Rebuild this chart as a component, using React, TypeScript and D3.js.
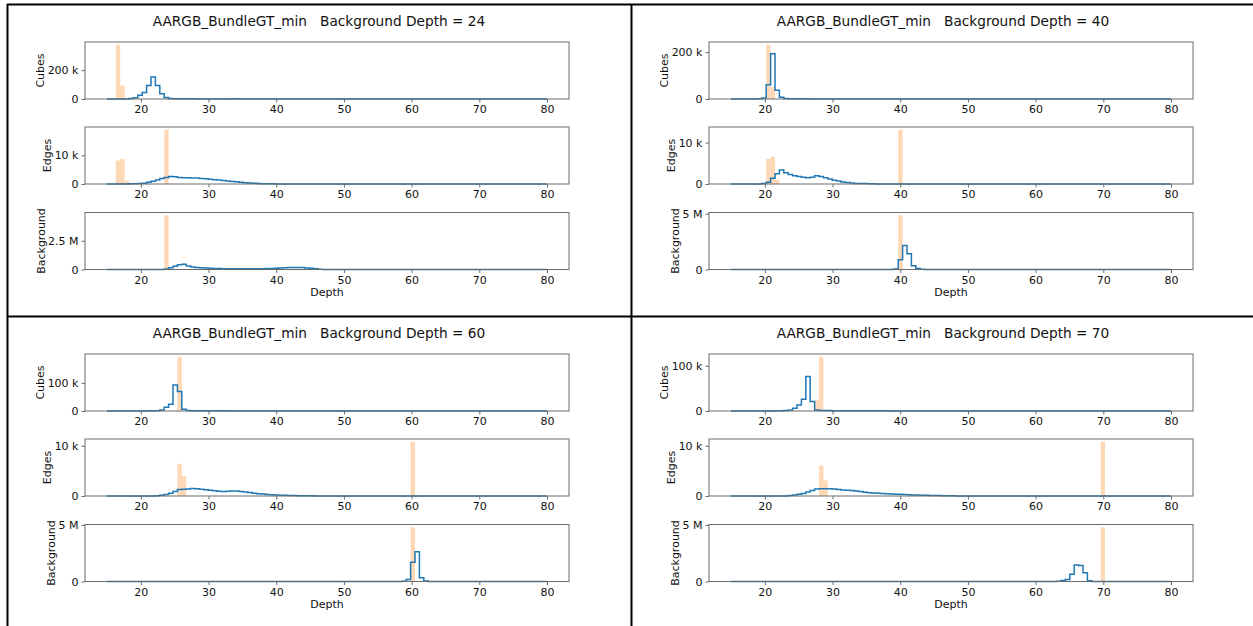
import React, { useEffect, useRef } from 'react';
import * as d3 from 'd3';

// histogram bins: 100 bins between depth 15 and 80
const binStart = 15;
const binEnd = 80;
const binCount = 100;
const xTicks = [20, 30, 40, 50, 60, 70, 80];

const datasetName = 'AARGB_BundleGT_min';
const backgroundDepths = [24, 40, 60, 70];
const rowLabels = ['Cubes', 'Edges', 'Background'];
const rowUnits = ['k', 'k', 'M'];

// blue step histograms: counts per bin, starting at bin index *Start
// Cubes / Edges in thousands, Background in millions
const cubes24Start = 4;
const cubes24 = [0.5, 3, 8, 26, 46, 94, 152, 94, 37, 11, 4, 2, 1.5, 1.2, 1, 1, 0.8, 0.7, 0.6, 0.5, 0.5, 0.4, 0.4, 0.5, 1.5, 1, 0.3, 0.2, 0.1];
const edges24Start = 4;
const edges24 = [0.02, 0.05, 0.08, 0.15, 0.3, 0.6, 0.95, 1.4, 1.9, 2.3, 2.6, 2.5, 2.3, 2.2, 2.15, 2.1, 2.05, 1.95, 1.8, 1.65, 1.5, 1.35, 1.2, 1.05, 0.9, 0.75, 0.6, 0.45, 0.35, 0.25, 0.18, 0.12, 0.08, 0.05, 0.03, 0.02];
const bg24Start = 13;
const bg24 = [0.05, 0.15, 0.28, 0.42, 0.45, 0.3, 0.22, 0.18, 0.15, 0.12, 0.1, 0.09, 0.08, 0.07, 0.07, 0.065, 0.065, 0.06, 0.06, 0.06, 0.06, 0.065, 0.07, 0.08, 0.09, 0.11, 0.13, 0.15, 0.17, 0.18, 0.18, 0.17, 0.14, 0.1, 0.06, 0.03, 0.01];

const cubes40Start = 5;
const cubes40 = [0.3, 0.8, 4, 61, 193, 37, 7, 2.5, 1.5, 1.2, 1, 0.8, 0.6, 0.5, 0.4];
const edges40Start = 7;
const edges40 = [0.1, 0.4, 1.4, 2.5, 3.4, 2.7, 2.3, 2.0, 1.8, 1.6, 1.5, 1.6, 2.0, 1.8, 1.5, 1.2, 0.9, 0.7, 0.5, 0.35, 0.25, 0.15, 0.12, 0.1, 0.07, 0.05, 0.03, 0.02];
const bg40Start = 37;
const bg40 = [0.04, 0.87, 2.15, 1.4, 0.33, 0.08, 0.02];

const cubes60Start = 9;
const cubes60 = [0.5, 0.8, 1, 3.5, 13, 24, 92, 69, 6, 1.5, 1.2, 1, 0.9, 0.8, 0.7, 0.6, 0.6, 0.5, 0.5, 0.4, 0.4, 0.35, 0.3, 0.3];
const edges60Start = 11;
const edges60 = [0.05, 0.13, 0.3, 0.55, 0.9, 1.3, 1.35, 1.4, 1.5, 1.45, 1.35, 1.25, 1.15, 1.05, 0.95, 0.9, 0.95, 1.0, 1.0, 0.9, 0.8, 0.7, 0.55, 0.45, 0.38, 0.3, 0.25, 0.2, 0.15, 0.13, 0.1, 0.08, 0.06, 0.05, 0.04, 0.03, 0.02];
const bg60Start = 67;
const bg60 = [0.03, 0.18, 1.7, 2.63, 0.33, 0.05];

const cubes70Start = 10;
const cubes70 = [0.5, 0.5, 1, 2.2, 6, 13, 26, 76, 21, 2, 1.2, 1, 0.9, 0.8, 0.7, 0.6, 0.5, 0.5, 0.5, 0.4, 0.4, 0.35, 0.3, 0.3, 0.3, 0.3];
const edges70Start = 13;
const edges70 = [0.1, 0.2, 0.35, 0.5, 0.8, 1.1, 1.4, 1.45, 1.45, 1.45, 1.4, 1.3, 1.2, 1.15, 1.1, 1.0, 0.9, 0.75, 0.66, 0.6, 0.55, 0.5, 0.45, 0.4, 0.35, 0.33, 0.3, 0.25, 0.2, 0.18, 0.15, 0.13, 0.12, 0.1, 0.08, 0.06, 0.04, 0.03, 0.02];
const bg70Start = 74;
const bg70 = [0.03, 0.09, 0.18, 0.65, 1.45, 1.42, 0.77, 0.06];

// orange ground truth bars: [bin index, count]
const gtCubes24 = [[2, 377], [3, 94]];
const gtEdges24 = [[2, 8.2], [3, 8.7], [4, 1.2], [13, 18.9]];
const gtBg24 = [[13, 4.72]];
const gtCubes40 = [[8, 232], [9, 50]];
const gtEdges40 = [[8, 6.05], [9, 6.6], [10, 1.0], [38, 13.1]];
const gtBg40 = [[38, 4.86]];
const gtCubes60 = [[16, 193]];
const gtEdges60 = [[16, 6.4], [17, 4.0], [69, 10.8]];
const gtBg60 = [[69, 4.8]];
const gtCubes70 = [[19, 25], [20, 120]];
const gtEdges70 = [[20, 6.05], [21, 3.1], [84, 10.8]];
const gtBg70 = [[84, 4.8]];

// y tick labels per panel
const cubesTicks = [[0, 200], [0, 200], [0, 100], [0, 100]];
const edgesTicks = [[0, 10], [0, 10], [0, 10], [0, 10]];
const bgTicks = [[0, 2.5], [0, 5], [0, 5], [0, 5]];

const panels = [
  [[cubes24Start, cubes24, gtCubes24], [edges24Start, edges24, gtEdges24], [bg24Start, bg24, gtBg24]],
  [[cubes40Start, cubes40, gtCubes40], [edges40Start, edges40, gtEdges40], [bg40Start, bg40, gtBg40]],
  [[cubes60Start, cubes60, gtCubes60], [edges60Start, edges60, gtEdges60], [bg60Start, bg60, gtBg60]],
  [[cubes70Start, cubes70, gtCubes70], [edges70Start, edges70, gtEdges70], [bg70Start, bg70, gtBg70]],
];
const panelTicks = [cubesTicks, edgesTicks, bgTicks];

const W = 1253;
const H = 626;
const cellW = 624;
const cellOrigins = [[7, 4], [631, 4], [7, 316], [631, 316]];
const axLeft = 78;
const axW = 484;
const axH = 57;
const axTops = [38, 123, 208.5];
const font = 'DejaVu Sans';
const tickFont = 11;
const textColor = '#111';

export default function App() {
  const ref = useRef<SVGSVGElement>(null);

  useEffect(() => {
    const svg = d3.select(ref.current);
    svg.selectAll('*').remove();

    const binWidth = (binEnd - binStart) / binCount;
    const edges = d3.range(binCount + 1).map(i => binStart + i * binWidth);
    const pad = (binEnd - binStart) * 0.05;
    const x = d3.scaleLinear().domain([binStart - pad, binEnd + pad]).range([axLeft, axLeft + axW]);

    const ctx = document.createElement('canvas').getContext('2d')!;
    ctx.font = `${tickFont}px "${font}"`;

    svg.append('rect').attr('width', W).attr('height', H).attr('fill', 'white');

    panels.forEach((rows, pi) => {
      const [ox, oy] = cellOrigins[pi];
      const g = svg.append('g').attr('transform', `translate(${ox},${oy})`);

      g.append('text')
        .attr('x', cellW / 2)
        .attr('y', 21.5)
        .attr('text-anchor', 'middle')
        .attr('font-family', font)
        .attr('font-size', 13.7)
        .attr('fill', textColor)
        .style('white-space', 'pre')
        .text(`${datasetName}   Background Depth = ${backgroundDepths[pi]}`);

      rows.forEach(([start, vals, gt]: any, ri) => {
        const top = axTops[ri];
        const counts = new Array(binCount).fill(0);
        (vals as number[]).forEach((v, k) => { counts[start + k] = v; });
        const ymax = d3.max([...counts, ...(gt as number[][]).map(d => d[1])]) as number;
        const y = d3.scaleLinear().domain([0, ymax * 1.05]).range([top + axH, top]);

        // ground truth bars
        g.append('g')
          .selectAll('rect')
          .data(gt as number[][])
          .join('rect')
          .attr('x', d => x(edges[d[0]]))
          .attr('width', d => x(edges[d[0] + 1]) - x(edges[d[0]]))
          .attr('y', d => y(d[1]))
          .attr('height', d => y(0) - y(d[1]))
          .attr('fill', '#ff7f0e')
          .attr('fill-opacity', 0.3);

        // step histogram
        const pts: [number, number][] = [[edges[0], 0], ...counts.map((c, i) => [edges[i], c] as [number, number]), [edges[binCount], counts[binCount - 1]], [edges[binCount], 0]];
        const line = d3.line<[number, number]>().x(d => x(d[0])).y(d => y(d[1])).curve(d3.curveStepAfter);
        g.append('path')
          .datum(pts)
          .attr('d', line)
          .attr('fill', 'none')
          .attr('stroke', '#1f77b4')
          .attr('stroke-width', 1.5);

        // frame
        g.append('rect')
          .attr('x', axLeft)
          .attr('y', top)
          .attr('width', axW)
          .attr('height', axH)
          .attr('fill', 'none')
          .attr('stroke', '#6a6a6a')
          .attr('stroke-width', 1);

        const unit = rowUnits[ri];
        const fmt = (v: number) => (v === 0 ? '0' : `${v} ${unit}`);
        const ticks = panelTicks[ri][pi];

        const xa = g.append('g')
          .attr('transform', `translate(0,${top + axH})`)
          .call(d3.axisBottom(x).tickValues(xTicks).tickSize(3.5).tickPadding(3).tickFormat(d => `${d}`));
        const ya = g.append('g')
          .attr('transform', `translate(${axLeft},0)`)
          .call(d3.axisLeft(y).tickValues(ticks).tickSize(3.5).tickPadding(3).tickFormat(d => fmt(d as number)));
        [xa, ya].forEach(a => {
          a.select('.domain').remove();
          a.attr('font-family', font).attr('font-size', tickFont);
          a.selectAll('line').attr('stroke', '#6a6a6a');
          a.selectAll('text').attr('fill', textColor);
        });

        const maxW = d3.max(ticks.map(t => ctx.measureText(fmt(t)).width)) as number;
        const lx = axLeft - 6.5 - maxW - 3.5;
        const cy = top + axH / 2;
        g.append('text')
          .attr('transform', `translate(${lx},${cy}) rotate(-90)`)
          .attr('text-anchor', 'middle')
          .attr('font-family', font)
          .attr('font-size', tickFont)
          .attr('fill', textColor)
          .text(rowLabels[ri]);

        if (ri === 2) {
          g.append('text')
            .attr('x', axLeft + axW / 2)
            .attr('y', top + axH + 26)
            .attr('text-anchor', 'middle')
            .attr('font-family', font)
            .attr('font-size', tickFont)
            .attr('fill', textColor)
            .text('Depth');
        }
      });
    });

    // table borders
    const border = svg.append('g').attr('stroke', '#000').attr('stroke-width', 2);
    border.append('line').attr('x1', 7).attr('x2', W).attr('y1', 4.5).attr('y2', 4.5);
    border.append('line').attr('x1', 7).attr('x2', W).attr('y1', 316.5).attr('y2', 316.5);
    border.append('line').attr('x1', 7.5).attr('x2', 7.5).attr('y1', 4).attr('y2', H);
    border.append('line').attr('x1', 631.5).attr('x2', 631.5).attr('y1', 4).attr('y2', H);
  }, []);

  return (
    <svg
      ref={ref}
      width={W}
      height={H}
      style={{ position: 'absolute', left: 0, top: 0, display: 'block' }}
    />
  );
}
